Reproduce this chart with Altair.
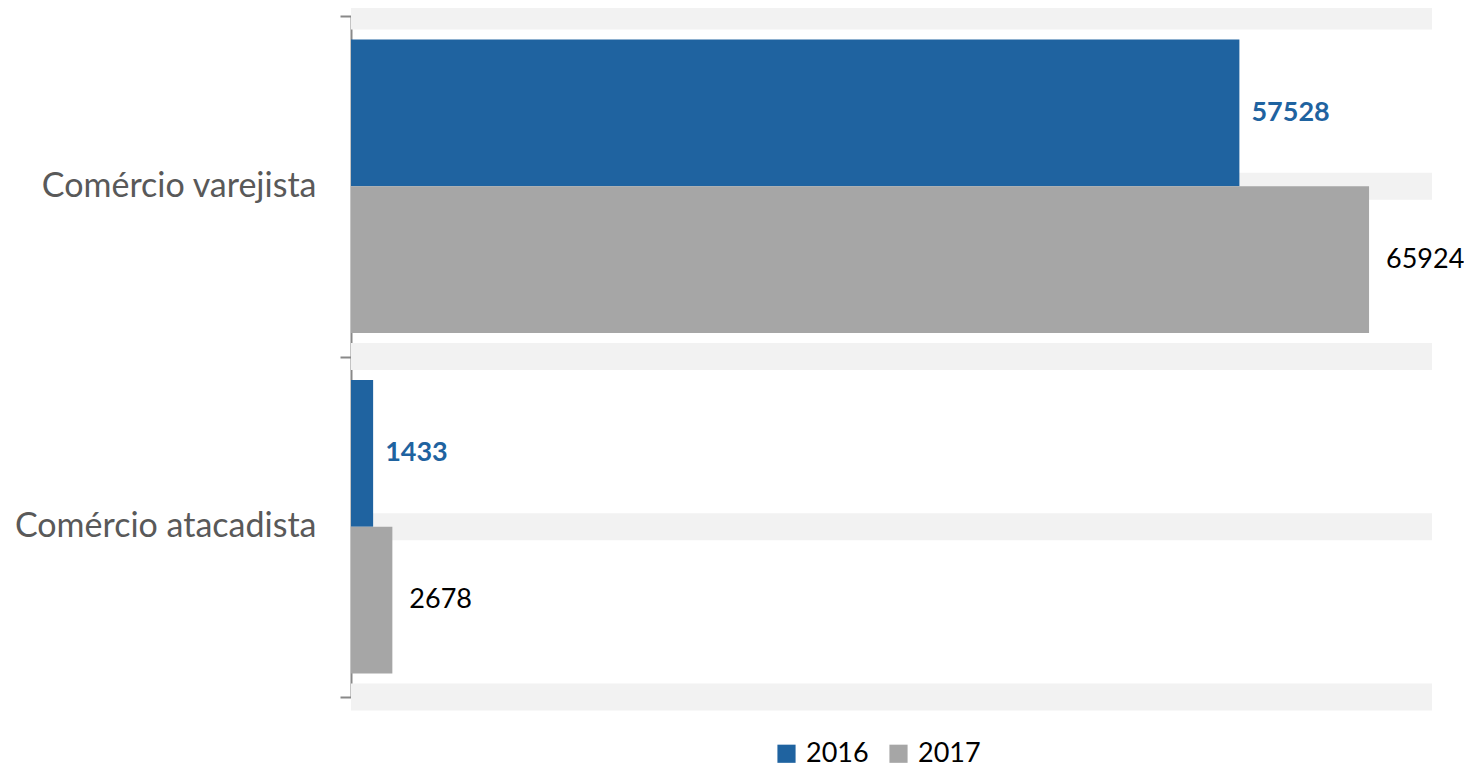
import altair as alt
import pandas as pd

categories = ["Comércio varejista", "Comércio atacadista"]
years = ["2016", "2017"]
values_2016 = [57528, 1433]
values_2017 = [65924, 2678]
# background band centres, in category units (band edges and band middles)
stripe_pos = [0, 0.5, 1, 1.5, 2]

rows = []
for i, c in enumerate(categories):
    rows.append({"categoria": c, "ano": years[0], "valor": values_2016[i]})
    rows.append({"categoria": c, "ano": years[1], "valor": values_2017[i]})
df = pd.DataFrame(rows)

XMAX = 70000
stripe_df = pd.DataFrame({"pos": stripe_pos, "x0": [0] * len(stripe_pos), "x1": [XMAX] * len(stripe_pos)})

FONT = "Lato"
BLUE = "#1f63a0"
GRAY = "#a6a6a6"

x_scale = alt.Scale(domain=[0, XMAX], nice=False)

y_enc = alt.Y(
    "categoria:N",
    sort=categories,
    scale=alt.Scale(paddingInner=0, paddingOuter=0),
    axis=alt.Axis(
        title=None,
        labelFont=FONT,
        labelFontSize=34,
        labelColor="#595959",
        labelPadding=24,
        tickBand="extent",
        tickSize=11,
        tickColor="#898989",
        tickWidth=2,
        domainColor="#898989",
        domainWidth=2,
        grid=False,
        labelLimit=400,
    ),
)
x_enc = alt.X("valor:Q", scale=x_scale, axis=None)

stripes = alt.Chart(stripe_df).mark_rule(color="#f2f2f2", strokeWidth=27, strokeCap="butt").encode(
    y=alt.Y("pos:Q", scale=alt.Scale(domain=[0, 2], reverse=True, nice=False, zero=False), axis=None),
    x=alt.X("x0:Q", scale=x_scale, axis=None),
    x2="x1:Q",
)

bars = alt.Chart(df).mark_bar().encode(
    y=y_enc,
    x=x_enc,
    yOffset=alt.YOffset("ano:N", sort=years, scale=alt.Scale(paddingOuter=0.16, paddingInner=0)),
    color=alt.Color(
        "ano:N",
        sort=years,
        scale=alt.Scale(domain=years, range=[BLUE, GRAY]),
        legend=alt.Legend(
            title=None,
            orient="none",
            legendX=422,
            legendY=724,
            direction="horizontal",
            symbolType="square",
            symbolSize=330,
            symbolStrokeWidth=0,
            labelFont=FONT,
            labelFontSize=27,
            labelColor="#000000",
            labelOffset=6,
            columnPadding=16,
        ),
    ),
)

labels16 = alt.Chart(df).transform_filter(alt.datum.ano == "2016").mark_text(
    align="left", baseline="middle", dx=12, font=FONT, fontSize=27, fontWeight="bold", color=BLUE
).encode(
    y=alt.Y("categoria:N", sort=categories),
    x=x_enc,
    yOffset=alt.YOffset("ano:N", sort=years),
    text=alt.Text("valor:Q", format="d"),
)

labels17 = alt.Chart(df).transform_filter(alt.datum.ano == "2017").mark_text(
    align="left", baseline="middle", dx=17, font=FONT, fontSize=27, color="#000000"
).encode(
    y=alt.Y("categoria:N", sort=categories),
    x=x_enc,
    yOffset=alt.YOffset("ano:N", sort=years),
    text=alt.Text("valor:Q", format="d"),
)

main = alt.layer(bars, labels16, labels17)

chart = alt.layer(stripes, main).resolve_scale(y="independent").properties(
    width=1081,
    height=681,
    padding={"left": 343, "top": 8, "right": 32, "bottom": 72},
    autosize=alt.AutoSizeParams(type="none"),
).configure_view(stroke=None)

chart.save("out.html", embed_options={"renderer": "svg", "actions": False})
